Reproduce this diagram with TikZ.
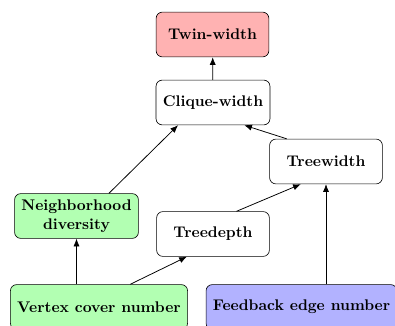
\documentclass[tikz,border=0pt]{standalone}
\usepackage{amsmath}
\usepackage{tikz}
\usetikzlibrary{arrows.meta}

\begin{document}
\begin{tikzpicture}[x=0.6477pt,y=-0.6477pt,>={Latex[length=5pt,width=4pt]},
  main node/.style={rectangle,rounded corners=4pt,draw,font=\bfseries,
    align=center,inner xsep=4.4pt,minimum width=73pt,minimum height=29pt}]
  \useasboundingbox (0,0) rectangle (395,325);
  \clip (0,0) rectangle (395,325);

  \node[main node,fill=red!30] (tww) at (212.5,34.5) {Twin-width};
  \node[main node] (cw) at (213,102.5) {Clique-width};
  \node[main node] (tw) at (326,161.5) {Treewidth};
  \node[main node,fill=green!30] (nd) at (76.5,216) {Neighborhood\\diversity};
  \node[main node] (td) at (213,234) {Treedepth};
  \node[main node,fill=green!30] (vc) at (99,307) {Vertex cover number};
  \node[main node,fill=blue!30] (fen) at (301.5,307) {Feedback edge number};

  \path[->,line width=0.5pt]
    (cw) edge (tww)
    (nd.35) edge (cw.213)
    (tw.150) edge (cw.-36)
    (td.44) edge (tw.222)
    (vc.36) edge (td.221)
    (nd.south |- vc.north) edge (nd.south)
    (tw.south |- fen.north) edge (tw.south);
\end{tikzpicture}
\end{document}
